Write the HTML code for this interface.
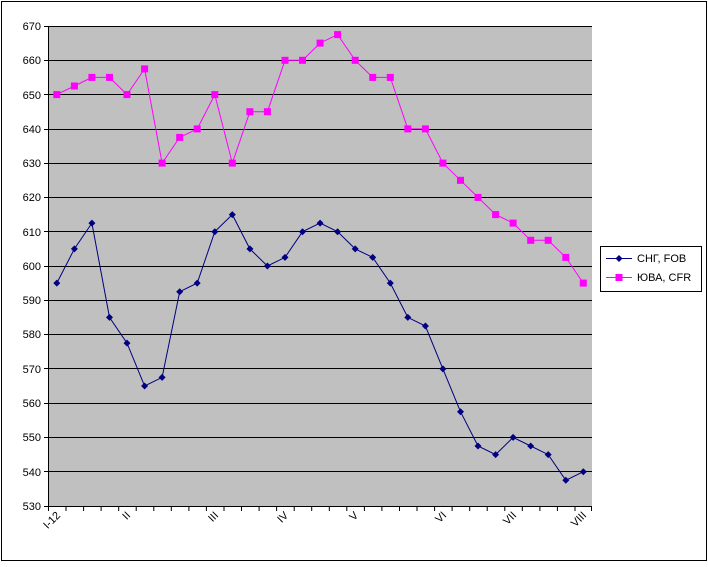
<!DOCTYPE html>
<html><head><meta charset="utf-8"><style>
body{margin:0;background:#fff}
text{font-family:"Liberation Sans",Arial,sans-serif;font-size:11px;fill:#000}
</style></head><body>
<svg width="708" height="562" xmlns="http://www.w3.org/2000/svg">
<defs>
<marker id="dm" markerWidth="8" markerHeight="8" refX="4" refY="4" markerUnits="userSpaceOnUse"><path d="M4,0.5 L7.5,4 L4,7.5 L0.5,4Z" fill="#000080"/></marker>
<marker id="sq" markerWidth="8" markerHeight="8" refX="4" refY="4" markerUnits="userSpaceOnUse"><rect x="0.5" y="0.5" width="7" height="7" fill="#ff00ff"/></marker>
</defs>
<rect x="1.5" y="1.5" width="705" height="559" fill="#fff" stroke="#000" stroke-width="1"/>
<rect x="48" y="26" width="544" height="480" fill="#c0c0c0"/>
<g stroke="#000" stroke-width="1">
<line x1="48" x2="592" y1="26.5" y2="26.5"/><line x1="48" x2="592" y1="60.5" y2="60.5"/><line x1="48" x2="592" y1="94.5" y2="94.5"/><line x1="48" x2="592" y1="129.5" y2="129.5"/><line x1="48" x2="592" y1="163.5" y2="163.5"/><line x1="48" x2="592" y1="197.5" y2="197.5"/><line x1="48" x2="592" y1="231.5" y2="231.5"/><line x1="48" x2="592" y1="266.5" y2="266.5"/><line x1="48" x2="592" y1="300.5" y2="300.5"/><line x1="48" x2="592" y1="334.5" y2="334.5"/><line x1="48" x2="592" y1="368.5" y2="368.5"/><line x1="48" x2="592" y1="403.5" y2="403.5"/><line x1="48" x2="592" y1="437.5" y2="437.5"/><line x1="48" x2="592" y1="471.5" y2="471.5"/>
<line x1="48.5" x2="48.5" y1="26" y2="506"/><line x1="44" x2="592" y1="506.5" y2="506.5"/>
<line x1="44" x2="48" y1="26.5" y2="26.5"/><line x1="44" x2="48" y1="60.5" y2="60.5"/><line x1="44" x2="48" y1="94.5" y2="94.5"/><line x1="44" x2="48" y1="129.5" y2="129.5"/><line x1="44" x2="48" y1="163.5" y2="163.5"/><line x1="44" x2="48" y1="197.5" y2="197.5"/><line x1="44" x2="48" y1="231.5" y2="231.5"/><line x1="44" x2="48" y1="266.5" y2="266.5"/><line x1="44" x2="48" y1="300.5" y2="300.5"/><line x1="44" x2="48" y1="334.5" y2="334.5"/><line x1="44" x2="48" y1="368.5" y2="368.5"/><line x1="44" x2="48" y1="403.5" y2="403.5"/><line x1="44" x2="48" y1="437.5" y2="437.5"/><line x1="44" x2="48" y1="471.5" y2="471.5"/>
<path d="M48.5,506v5M66,506v5M83.6,506v5M101.1,506v5M118.7,506v5M136.2,506v5M153.8,506v5M171.3,506v5M188.9,506v5M206.4,506v5M224,506v5M241.5,506v5M259.1,506v5M276.6,506v5M294.2,506v5M311.7,506v5M329.3,506v5M346.8,506v5M364.4,506v5M381.9,506v5M399.5,506v5M417,506v5M434.6,506v5M452.1,506v5M469.7,506v5M487.2,506v5M504.8,506v5M522.3,506v5M539.9,506v5M557.4,506v5M575,506v5M591.5,506v5"/>
</g>
<g text-anchor="end">
<text x="41" y="30">670</text><text x="41" y="64">660</text><text x="41" y="99">650</text><text x="41" y="133">640</text><text x="41" y="167">630</text><text x="41" y="201">620</text><text x="41" y="236">610</text><text x="41" y="270">600</text><text x="41" y="304">590</text><text x="41" y="338">580</text><text x="41" y="373">570</text><text x="41" y="407">560</text><text x="41" y="441">550</text><text x="41" y="476">540</text><text x="41" y="510">530</text>
<text transform="translate(61,516) rotate(-45)">I-12</text>
<text transform="translate(131,516) rotate(-45)">II</text>
<text transform="translate(219,516) rotate(-45)">III</text>
<text transform="translate(289,516) rotate(-45)">IV</text>
<text transform="translate(359,516) rotate(-45)">V</text>
<text transform="translate(447,516) rotate(-45)">VI</text>
<text transform="translate(517,516) rotate(-45)">VII</text>
<text transform="translate(587,516) rotate(-45)">VIII</text>
</g>
<polyline fill="none" stroke="#000080" stroke-width="1" marker-start="url(#dm)" marker-mid="url(#dm)" marker-end="url(#dm)" points="56.8,283.1 74.4,248.9 91.9,223.1 109.5,317.4 127,343.1 144.6,386 162.1,377.4 179.7,291.7 197.2,283.1 214.8,231.7 232.3,214.6 249.9,248.9 267.4,266 285,257.4 302.5,231.7 320.1,223.1 337.6,231.7 355.2,248.9 372.7,257.4 390.3,283.1 407.8,317.4 425.4,326 442.9,368.9 460.5,411.7 478,446 495.6,454.6 513.1,437.4 530.7,446 548.2,454.6 565.8,480.3 583.3,471.7"/>
<polyline fill="none" stroke="#ff00ff" stroke-width="1" marker-start="url(#sq)" marker-mid="url(#sq)" marker-end="url(#sq)" points="56.8,94.6 74.4,86 91.9,77.4 109.5,77.4 127,94.6 144.6,68.9 162.1,163.1 179.7,137.4 197.2,128.9 214.8,94.6 232.3,163.1 249.9,111.7 267.4,111.7 285,60.3 302.5,60.3 320.1,43.1 337.6,34.6 355.2,60.3 372.7,77.4 390.3,77.4 407.8,128.9 425.4,128.9 442.9,163.1 460.5,180.3 478,197.4 495.6,214.6 513.1,223.1 530.7,240.3 548.2,240.3 565.8,257.4 583.3,283.1"/>
<rect x="600.5" y="246.5" width="101" height="45" fill="#fff" stroke="#000"/>
<line x1="606" x2="632" y1="258.5" y2="258.5" stroke="#000080"/><path d="M619,255 L622.5,258.5 L619,262 L615.5,258.5Z" fill="#000080"/>
<line x1="606" x2="632" y1="277.5" y2="277.5" stroke="#ff00ff"/><rect x="615.5" y="274" width="7" height="7" fill="#ff00ff"/>
<text x="637" y="262">СНГ, FOB</text>
<text x="637" y="281">ЮВА,  CFR</text>
</svg>
</body></html>
